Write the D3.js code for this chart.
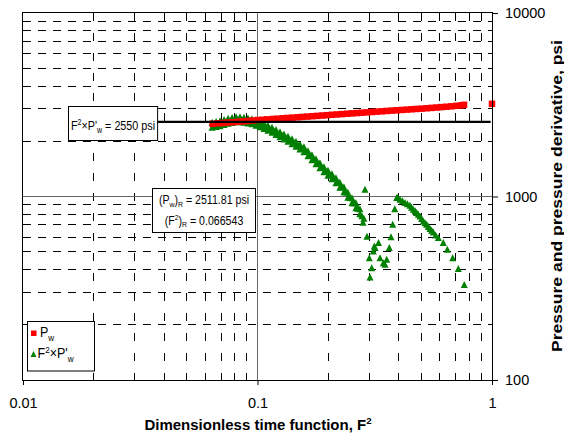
<!DOCTYPE html>
<html>
<head>
<meta charset="utf-8">
<script src="https://cdn.jsdelivr.net/npm/d3@7"></script>
<style>
  body { margin: 0; background: #fff; }
  svg text { font-family: "Liberation Sans", Arial, sans-serif; fill: #000; }
</style>
</head>
<body>
<svg id="chart" width="564" height="438"></svg>
<script>
// ---- data -------------------------------------------------------------
// Pressure, Pw (psi) against dimensionless time function F^2
const pwF2 = [0.0644,0.0676,0.071,0.0746,0.0783,0.0822,0.0863,0.0906,0.0952,0.1,
  0.105,0.110,0.116,0.122,0.128,0.134,0.141,0.148,0.155,0.163,0.171,0.180,0.189,
  0.198,0.208,0.218,0.229,0.241,0.253,0.265,0.279,0.293,0.307,0.323,0.339,0.356,
  0.374,0.392,0.412,0.433,0.454,0.477,0.501,0.526,0.552,0.580,0.609,0.639,0.671,
  0.705,0.740,0.760,1.0];
const pwVal = [2490,2505,2515,2530,2540,2555,2565,2580,2595,2610,2620,2632,2645,
  2655,2668,2680,2690,2702,2715,2725,2738,2750,2762,2775,2788,2800,2812,2825,2838,
  2850,2862,2875,2888,2900,2912,2925,2938,2950,2962,2975,2988,3000,3012,3025,3040,
  3055,3070,3085,3100,3120,3140,3160,3200];

// Pressure derivative group, F^2 x P'w (psi)
const derF2 = [0.0640,0.0653,0.0666,0.0679,0.0692,0.0706,0.0720,0.0734,0.0749,0.0764,
  0.0779,0.0794,0.0810,0.0826,0.0842,0.0859,0.0876,0.0893,0.0911,0.0929,0.0947,0.0966,
  0.0985,0.1005,0.1025,0.1045,0.1066,0.1087,0.1108,0.1130,0.1153,0.1176,0.1199,0.1223,
  0.1247,0.1272,0.1297,0.1323,0.1349,0.1376,0.1403,0.1431,0.1459,0.1488,0.1517,0.1547,
  0.1578,0.1609,0.1641,0.1674,0.1707,0.1741,0.1775,0.1810,0.1846,0.1883,0.1920,0.1958,
  0.1997,0.2036,0.2077,0.2118,0.2160,0.2203,0.2246,0.2291,0.2336,0.2382,0.2429,0.2478,
  0.2527,0.2577,0.2628,0.2680,0.2733,0.2787,0.2842,
  0.0640,0.0666,0.0692,0.0720,0.0749,0.0779,0.0810,0.0842,0.0876,0.0911,0.0947,0.0985,
  0.1025,0.1066,0.1108,0.1153,0.1199,0.1247,0.1297,0.1349,0.1403,0.1459,0.1517,0.1578,
  0.1641,0.1707,0.1775,0.1846,0.1920,0.1997,0.2077,0.2160,0.2246,0.2336,0.2429,0.2527,
  0.2628,0.2733,
  0.2818,0.2873,0.2931,0.2997,0.3018,0.3069,0.3118,0.3148,0.3170,0.3281,0.3330,0.3440,
  0.3498,0.3556,0.3648,0.3709,0.3771,0.3849,0.3922,
  0.3961,0.4052,0.4150,0.4256,0.4360,0.4470,0.4540,0.4617,0.4700,0.4773,0.4850,0.4932,
  0.5010,0.5094,0.5180,0.5265,0.5350,0.5440,0.5530,0.5620,0.5750,0.5902,0.6197,0.6447,
  0.6799,0.7183,0.7616];
const derVal = [2515,2448,2383,2471,2563,2504,2447,2543,2644,2576,
  2509,2600,2695,2612,2531,2603,2678,2584,2493,2560,2628,2525,
  2425,2477,2531,2428,2330,2375,2423,2318,2218,2258,2298,2195,
  2097,2135,2172,2075,1982,2013,2045,1951,1861,1888,1916,1824,
  1737,1748,1759,1662,1571,1581,1591,1503,1421,1430,1439,1364,
  1293,1305,1318,1246,1177,1181,1185,1116,1051,1048,1045,978,
  916,916,916,855,798,778,754,
  2362,2537,2407,2605,2484,2672,2531,2695,2515,2655,2469,2582,
  2377,2481,2275,2362,2158,2232,2040,2110,1921,1982,1799,1849,
  1652,1673,1494,1513,1351,1377,1238,1253,1113,1119,981,975,
  860,850,
  717,1085,602,460,361,405,500,532,522,556,460,432,
  423,451,522,599,699,850,978,
  978,957,940,918,905,888,866,844,828,810,793,776,
  752,729,714,699,680,663,649,635,612,592,556,511,
  460,401,329];

const xTicks = [0.01, 0.1, 1];
const yTicks = [100, 1000, 10000];

// radial-flow reference values
const flatLevel = 2550;          // F^2 x P'w plateau, psi
const flatSpan = [0.0375, 0.987];
const radialPw = 2511.81;
const radialF2 = 0.066543;

// ---- layout -----------------------------------------------------------
const svg = d3.select("#chart");
const plot = { l: 23, t: 13, r: 492, b: 380 };
const FONT = '"Liberation Sans", Arial, sans-serif';

const x = d3.scaleLog().domain([0.01, 1]).range([plot.l, plot.r]);
const y = d3.scaleLog().domain([100, 10000]).range([plot.b, plot.t]);
const snap = v => Math.floor(v) + 0.5;
const isDecade = v => Math.abs(Math.log10(v) - Math.round(Math.log10(v))) < 1e-9;

svg.append("rect").attr("width", 564).attr("height", 438).attr("fill", "#fff");

// ---- grid -------------------------------------------------------------
const grid = svg.append("g");
const xGrid = x.ticks().filter(v => v > 0.01 && v < 1);
const yGrid = y.ticks().filter(v => v > 100 && v < 10000);

grid.selectAll("line.vminor").data(xGrid.filter(v => !isDecade(v))).join("line")
  .attr("class", "vminor")
  .attr("x1", d => snap(x(d))).attr("x2", d => snap(x(d)))
  .attr("y1", plot.t).attr("y2", plot.b)
  .attr("stroke", "#000").attr("stroke-width", 1).attr("stroke-dasharray", "8,12");

grid.selectAll("line.hminor").data(yGrid.filter(v => !isDecade(v))).join("line")
  .attr("class", "hminor")
  .attr("x1", plot.l).attr("x2", plot.r)
  .attr("y1", d => snap(y(d))).attr("y2", d => snap(y(d)))
  .attr("stroke", "#000").attr("stroke-width", 1).attr("stroke-dasharray", "8,7");

grid.selectAll("line.vmajor").data(xGrid.filter(isDecade)).join("line")
  .attr("class", "vmajor")
  .attr("x1", d => snap(x(d))).attr("x2", d => snap(x(d)))
  .attr("y1", plot.t).attr("y2", plot.b)
  .attr("stroke", "#666").attr("stroke-width", 1);

grid.selectAll("line.hmajor").data(yGrid.filter(isDecade)).join("line")
  .attr("class", "hmajor")
  .attr("x1", plot.l).attr("x2", plot.r)
  .attr("y1", d => snap(y(d))).attr("y2", d => snap(y(d)))
  .attr("stroke", "#666").attr("stroke-width", 1);

// ---- series -----------------------------------------------------------
const pwData = pwF2.map((f, i) => ({ f, v: pwVal[i] }));
const derData = derF2.map((f, i) => ({ f, v: derVal[i] }));
const tri = s => `M0,${-s * 0.6}L${s / 2},${s * 0.4}L${-s / 2},${s * 0.4}Z`;

svg.append("g").selectAll("path").data(derData).join("path")
  .attr("d", tri(7))
  .attr("transform", d => `translate(${x(d.f)},${y(d.v)})`)
  .attr("fill", "#008000");

svg.append("g").selectAll("rect").data(pwData).join("rect")
  .attr("x", d => x(d.f) - 3.25).attr("y", d => y(d.v) - 3.25)
  .attr("width", 6.5).attr("height", 6.5)
  .attr("fill", "#ff0000");

// plateau line
svg.append("line")
  .attr("x1", x(flatSpan[0])).attr("x2", x(flatSpan[1]))
  .attr("y1", y(flatLevel)).attr("y2", y(flatLevel))
  .attr("stroke", "#000").attr("stroke-width", 2.2);

// ---- frame and axes ---------------------------------------------------
svg.append("rect")
  .attr("x", plot.l - 0.5).attr("y", plot.t - 0.5)
  .attr("width", plot.r - plot.l + 1).attr("height", plot.b - plot.t + 1)
  .attr("fill", "none").attr("stroke", "#000").attr("stroke-width", 1);

const yAxis = d3.axisRight(y).tickValues(yTicks).tickSize(6).tickPadding(7)
  .tickFormat(d3.format("d"));
svg.append("g").attr("transform", `translate(${plot.r},0)`)
  .call(yAxis)
  .call(g => g.select(".domain").remove())
  .call(g => g.selectAll("text").attr("font-size", 14.5).attr("font-family", FONT).attr("fill", "#000"))
  .call(g => g.selectAll("line").attr("stroke", "#000"));

const xAxis = d3.axisBottom(x).tickValues(xTicks).tickSize(5).tickPadding(13)
  .tickFormat(d => String(d));
svg.append("g").attr("transform", `translate(0,${plot.b})`)
  .call(xAxis)
  .call(g => g.select(".domain").remove())
  .call(g => g.selectAll("text").attr("font-size", 14.5).attr("font-family", FONT).attr("fill", "#000"))
  .call(g => g.selectAll("line").attr("stroke", "#000"));

// ---- text helper with sub/superscripts --------------------------------
function rich(parent, px, py, parts, opt) {
  const size = opt.size, sy = opt.sy || 1, sx = opt.sx || 1;
  const t = parent.append("text")
    .attr("transform", `translate(${px},${py}) scale(${sx},${sy})`)
    .attr("font-size", size)
    .attr("font-weight", opt.weight || "normal")
    .attr("text-anchor", opt.anchor || "start");
  let shift = 0;
  parts.forEach(([txt, kind]) => {
    let target = 0, fs = size;
    if (kind === "sup") { target = -0.38 * size; fs = size * 0.65; }
    if (kind === "sub") { target = 0.25 * size; fs = size * 0.65; }
    t.append("tspan").attr("font-size", fs).attr("dy", target - shift).text(txt);
    shift = target;
  });
  return t;
}

// ---- annotation boxes -------------------------------------------------
const notes = svg.append("g");
const lineLeft = x(flatSpan[0]);
notes.append("rect").attr("x", 68.5).attr("y", 106.5)
  .attr("width", lineLeft - 68.5).attr("height", 34)
  .attr("fill", "#fff").attr("stroke", "#000");
rich(notes, (68.5 + lineLeft) / 2, 129.5,
  [["F"], ["2", "sup"], ["\u00d7P'"], ["w", "sub"], [` = ${flatLevel} psi`]],
  { size: 10.8, sy: 1.2, anchor: "middle" });

notes.append("rect").attr("x", 152.5).attr("y", 188.5)
  .attr("width", 103).attr("height", 44)
  .attr("fill", "#fff").attr("stroke", "#000");
rich(notes, 204, 204,
  [["(P"], ["w", "sub"], [")"], ["R", "sub"], [` = ${radialPw} psi`]],
  { size: 10.6, sy: 1.12, anchor: "middle" });
rich(notes, 204, 224.5,
  [["(F"], ["2", "sup"], [")"], ["R", "sub"], [` = ${radialF2}`]],
  { size: 10.6, sy: 1.12, anchor: "middle" });

// ---- legend -----------------------------------------------------------
const leg = svg.append("g");
leg.append("rect").attr("x", 27.5).attr("y", 321.5).attr("width", 67).attr("height", 49.5)
  .attr("fill", "#fff").attr("stroke", "#000");
leg.append("rect").attr("x", 31).attr("y", 330.5).attr("width", 5.5).attr("height", 5.5).attr("fill", "#ff0000");
rich(leg, 40, 337, [["P"], ["w", "sub"]], { size: 12.5, sy: 1.15 });
leg.append("path").attr("d", tri(6)).attr("transform", "translate(33.5,354.5)").attr("fill", "#008000");
rich(leg, 37.5, 358, [["F"], ["2", "sup"], ["\u00d7P'"], ["w", "sub"]], { size: 12.5, sy: 1.15 });

// ---- axis titles ------------------------------------------------------
rich(svg, 258, 429.5, [["Dimensionless time function, F"], ["2", "sup"]],
  { size: 15, weight: "bold", anchor: "middle" });

svg.append("text")
  .attr("transform", "translate(562,196) rotate(-90)")
  .attr("text-anchor", "middle")
  .attr("font-size", 14)
  .attr("font-weight", "bold")
  .attr("textLength", 312)
  .attr("lengthAdjust", "spacingAndGlyphs")
  .text("Pressure and pressure derivative, psi");
</script>
</body>
</html>
